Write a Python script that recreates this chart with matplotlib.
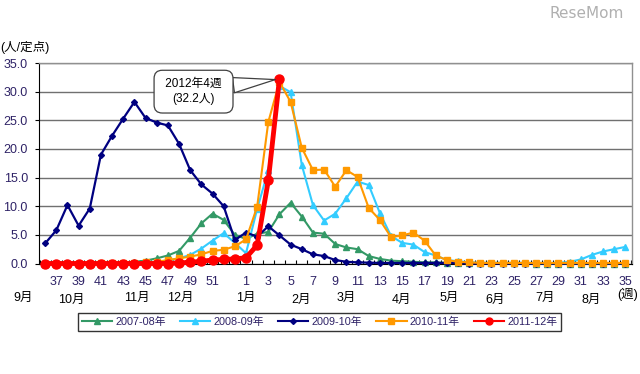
import matplotlib
matplotlib.use('Agg')
import matplotlib.pyplot as plt
import numpy as np
from matplotlib.lines import Line2D
from matplotlib.transforms import blended_transform_factory

plt.rcParams['font.family'] = ['Liberation Sans', 'Noto Sans CJK JP', 'DejaVu Sans']

# week categories: 36..53 then 1..35
weeks = list(range(36, 54)) + list(range(1, 36))

green_0708 = [0.0, 0.0, 0.0, 0.0, 0.0, 0.1, 0.1, 0.1, 0.3, 0.5, 0.9, 1.4, 2.2, 4.5, 7.0, 8.7, 7.6, 5.0,
              4.3, 5.2, 5.5, 8.6, 10.6, 8.2, 5.4, 5.2, 3.4, 2.8, 2.5, 1.3, 0.8, 0.5, 0.4, 0.3, 0.2, 0.2,
              0.1, 0.1, 0.1, 0.1, 0.1, 0.1, 0.1, 0.1, 0.0, 0.0, 0.0, 0.0, 0.0, 0.0, 0.0, 0.0, 0.0]
cyan_0809 = [0.0, 0.0, 0.0, 0.0, 0.0, 0.0, 0.0, 0.1, 0.1, 0.2, 0.3, 0.5, 0.9, 1.5, 2.6, 4.0, 5.3, 3.6,
             1.8, 9.5, 16.3, 31.0, 29.9, 17.2, 10.2, 7.5, 8.7, 11.4, 14.3, 13.7, 8.8, 4.8, 3.6, 3.3, 2.0, 1.4,
             0.6, 0.4, 0.2, 0.1, 0.1, 0.1, 0.1, 0.1, 0.1, 0.1, 0.1, 0.3, 0.7, 1.5, 2.1, 2.5, 2.9]
blue_0910 = [3.5, 5.8, 10.2, 6.6, 9.6, 19.0, 22.3, 25.3, 28.2, 25.4, 24.6, 24.1, 20.9, 16.3, 13.8, 12.2, 10.0, 4.1,
             5.4, 4.7, 6.5, 4.9, 3.3, 2.5, 1.6, 1.3, 0.6, 0.3, 0.2, 0.15, 0.1, 0.1, 0.1, 0.1, 0.1, 0.1,
             0.1, 0.1, 0.0, 0.0, 0.0, 0.0, 0.0, 0.0, 0.0, 0.0, 0.0, 0.0, 0.0, 0.0, 0.0, 0.0, 0.0]
orange_1011 = [0.0, 0.0, 0.0, 0.0, 0.0, 0.1, 0.1, 0.1, 0.1, 0.2, 0.3, 0.6, 0.9, 1.2, 1.6, 2.2, 2.4, 3.0,
               4.2, 9.9, 24.7, 31.7, 28.2, 20.2, 16.3, 16.4, 13.4, 16.3, 15.1, 9.7, 7.6, 4.6, 4.9, 5.4, 4.0, 1.4,
               0.6, 0.3, 0.2, 0.1, 0.1, 0.1, 0.1, 0.1, 0.1, 0.1, 0.1, 0.1, 0.1, 0.1, 0.1, 0.1, 0.1]
red_1112 = [0.0, 0.0, 0.0, 0.0, 0.0, 0.0, 0.0, 0.0, 0.0, 0.0, 0.0, 0.0, 0.1, 0.2, 0.4, 0.6, 0.7, 0.8,
            1.0, 3.2, 14.5, 32.2]

series_names = ['2007-08年', '2008-09年', '2009-10年', '2010-11年', '2011-12年']
series_colors = ['#339966', '#33CCFF', '#000080', '#FF9900', '#FF0000']

week_labels = [str(w) for w in list(range(37, 52, 2)) + list(range(1, 36, 2))]
month_labels = ['9月', '10月', '11月', '12月', '1月', '2月', '3月', '4月', '5月', '6月', '7月', '8月']
# label placement along the category axis (category index units)
month_pos = [-2.0, 2.35, 8.25, 12.1, 18.0, 22.9, 26.95, 31.95, 36.25, 40.3, 44.85, 48.95]
month_low = [False, True, False, False, False, True, False, True, False, True, False, True]

txt_color = '#2e2266'

fig = plt.figure(figsize=(6.4, 3.74), dpi=100)
ax = fig.add_axes([39/640, 1-263.5/374, (631.5-39)/640, (263.5-63)/374])

x = np.arange(len(weeks))

def plot_series(vals, color, marker, ms, lw, z):
    v = np.array(vals, dtype=float)
    xs = x[:len(v)]
    ax.plot(xs, v, color=color, marker=marker, ms=ms, lw=lw, mec=color, mfc=color, zorder=z, clip_on=False)

plot_series(green_0708, series_colors[0], '^', 4.2, 1.5, 3)
plot_series(cyan_0809, series_colors[1], '^', 4.2, 1.5, 4)
plot_series(blue_0910, series_colors[2], 'D', 3.0, 1.6, 5)
plot_series(orange_1011, series_colors[3], 's', 4.6, 1.5, 6)
plot_series(red_1112, series_colors[4], 'o', 6.5, 3.5, 7)

ax.set_xlim(-0.55, len(weeks) - 0.45)
ax.set_ylim(0, 35)
ax.set_yticks(np.arange(0, 36, 5))
ax.set_yticklabels([f'{v:.1f}' for v in np.arange(0, 36, 5)], fontsize=9, color=txt_color)
ax.yaxis.grid(True, color='#707070', lw=1.0)
ax.set_axisbelow(True)

label_weeks = list(range(37, 52, 2)) + list(range(1, 36, 2))
label_pos = [weeks.index(w) for w in label_weeks]
ax.set_xticks(label_pos)
ax.set_xticklabels(week_labels, fontsize=9, color=txt_color)
ax.tick_params(axis='x', which='major', length=0, pad=9)
ax.set_xticks(np.arange(-0.5, len(weeks), 1.0), minor=True)
ax.tick_params(axis='x', which='minor', length=3, direction='in', color='black', width=0.8)
ax.tick_params(axis='y', length=3, direction='out', width=0.8, pad=5)

for s in ['top', 'right']:
    ax.spines[s].set_color('#909090')
    ax.spines[s].set_linewidth(1.0)
ax.spines['left'].set_color('black')
ax.spines['bottom'].set_color('black')

trans = blended_transform_factory(ax.transData, fig.transFigure)
for lab, p, low in zip(month_labels, month_pos, month_low):
    yy = 1 - (300 if low else 297.5) / 374
    ax.text(p, yy, lab, transform=trans, ha='center', va='center', fontsize=9, color='black')
ax.text(len(weeks) - 0.8, 1 - 294/374, '(週)', transform=trans, ha='center', va='center',
        fontsize=9, color='black')

fig.text(0.0, 1 - 47/374, '(人/定点)', ha='left', va='center', fontsize=9, color='black')

peak_idx = len(red_1112) - 1
ax.annotate(' 2012年4週 \n(32.2人)', xy=(peak_idx, red_1112[-1]), xytext=(13.3, 30.0), textcoords='data',
            ha='center', va='center', fontsize=8.5, linespacing=1.3, color='black', zorder=10,
            bbox=dict(boxstyle='round,pad=0.68,rounding_size=0.7', fc='white', ec='#404040', lw=0.9),
            arrowprops=dict(arrowstyle='wedge,tail_width=1.3,shrink_factor=0.5', fc='white', ec='#404040',
                            lw=0.9, relpos=(1.0, 0.7), shrinkA=0, shrinkB=3))

markers = ['^', '^', 'D', 's', 'o']
msz = [4.2, 4.2, 3.0, 4.6, 5.0]
handles = [Line2D([0], [0], color=c, marker=m, ms=s, lw=1.5, mec=c, mfc=c)
           for c, m, s in zip(series_colors, markers, msz)]
leg = fig.legend(handles, series_names, loc='center', ncol=5, mode='expand',
                 bbox_to_anchor=(72.7/640, 1-331.7/374, (566.7-72.7)/640, 20/374),
                 frameon=True, fancybox=False, edgecolor='black', fontsize=7.8,
                 handlelength=2.8, handletextpad=0.3, borderpad=0.35, columnspacing=1.0)
leg.get_frame().set_linewidth(1.0)
for t in leg.get_texts():
    t.set_color(txt_color)

fig.text(0.975, 1 - 14/374, 'ReseMom', ha='right', va='center', fontsize=11, color='#b0b0b0',
         family='DejaVu Sans')

fig.savefig('out.png', dpi=100)
